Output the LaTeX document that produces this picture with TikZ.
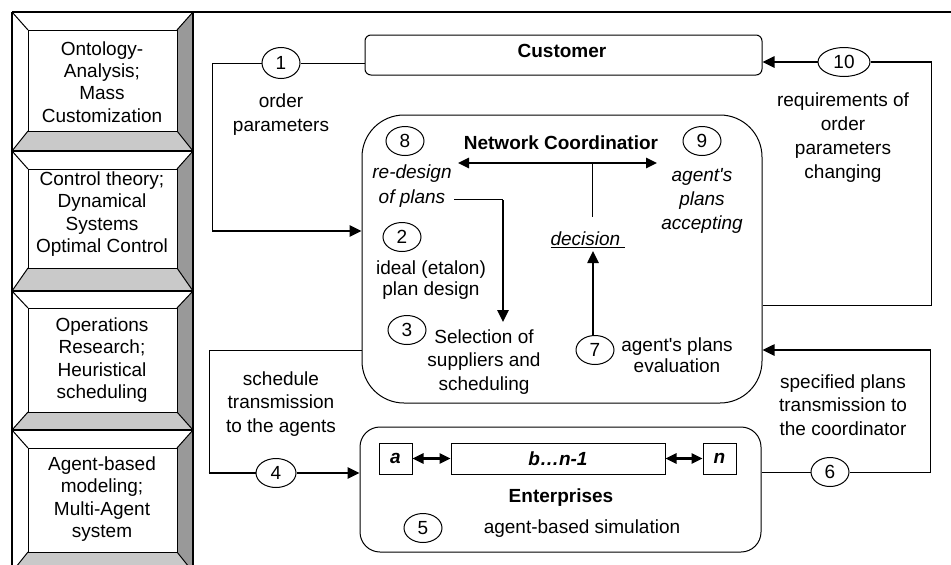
\documentclass[tikz,border=0pt]{standalone}
\usepackage{fontspec}
\setmainfont{Liberation Sans}
\usetikzlibrary{shapes.geometric,arrows.meta}
\newcommand\diagfont{\fontsize{19}{23.5}\selectfont}
\definecolor{bevright}{gray}{0.6}
\definecolor{bevbottom}{gray}{0.79}
\tikzset{
  thinline/.style={line width=1pt},
  thickline/.style={line width=2.5pt},
  fwd/.style={-{Triangle[length=12pt,width=11pt]}},
  both/.style={{Triangle[length=11pt,width=10pt]}-{Triangle[length=11pt,width=10pt]}},
  txt/.style={font=\diagfont, align=center, inner sep=0pt},
  itxt/.style={font=\diagfont\itshape, align=center, inner sep=0pt},
  btxt/.style={font=\diagfont\bfseries, align=center, inner sep=0pt},
  frametxt/.style={font=\fontsize{19}{22.2}\selectfont, align=center, inner sep=0pt},
  num/.style={ellipse, draw, line width=1pt, font=\diagfont, minimum width=38pt,
              minimum height=29pt, inner sep=0pt},
  box/.style={draw, line width=1pt, inner sep=0pt},
  smallbox/.style={draw, line width=1pt, inner sep=0pt, minimum height=31pt,
                   font=\diagfont\bfseries\itshape}
}
\begin{document}
\begin{tikzpicture}[x=1pt,y=-1pt]
\useasboundingbox (0,0) rectangle (951,565);
\clip (0,0) rectangle (951,565);

% ---- left column of bevelled method panels ----
\foreach \ya/\yb/\yc/\yd in {12/30/131/151, 151/169/268/291, 291/308/412/430, 430/448/552/572}{
  \fill[bevright] (177,\yb) -- (193,\ya) -- (193,\yd) -- (177,\yc) -- cycle;
  \fill[bevbottom] (28,\yc) -- (177,\yc) -- (193,\yd) -- (12,\yd) -- cycle;
  \draw[thinline] (28,\yb) rectangle (177,\yc);
  \draw[thinline] (12,\ya) -- (28,\yb) (193,\ya) -- (177,\yb)
                  (12,\yd) -- (28,\yc) (193,\yd) -- (177,\yc);
  \draw[line width=2.8pt] (12,\yd) -- (193,\yd);
}
\draw[line width=1.2pt] (12,12) -- (12,572);
\draw[line width=2.6pt] (193,12) -- (193,572);
\draw[line width=2.8pt] (12,12) -- (951,12);

\node[frametxt] (m1) at (102,82) {Ontology-\\Analysis;\\Mass\\Customization};
\node[frametxt] (m2) at (102,214) {Control theory;\\Dynamical\\Systems\\Optimal Control};
\node[frametxt] (m3) at (102,360) {Operations\\Research;\\Heuristical\\scheduling};
\node[frametxt] (m4) at (102,499) {Agent-based\\modeling;\\Multi-Agent\\system};

% ---- main blocks ----
\node[box, minimum width=397pt, minimum height=40pt, rounded corners=6pt] (cust) at (563.5,55) {};
\node[btxt] (custtxt) at (562,51) {Customer};
\node[box, minimum width=400pt, minimum height=288pt, rounded corners=42pt] (nc) at (562,259) {};
\node[box, minimum width=401pt, minimum height=125pt, rounded corners=20pt] (ent) at (560.5,489.5) {};

% ---- numbered steps ----
\node[num, minimum height=31pt] (e1) at (281,63) {1};
\node[num, minimum width=52pt] (e10) at (844,62) {10};
\node[num] (e8) at (405,141) {8};
\node[num] (e9) at (702,141) {9};
\node[num] (e2) at (402,237) {2};
\node[num] (e3) at (407,330) {3};
\node[num] (e7) at (595,350) {7};
\node[num, minimum width=40pt] (e4) at (276,473) {4};
\node[num] (e5) at (423,528) {5};
\node[num] (e6) at (830,472) {6};

% ---- coordinator contents ----
\node[btxt] (nctitle) at (561,143) {Network Coordinatior};
\node[itxt, font=\fontsize{19}{25}\selectfont\itshape] (redesign) at (412,186) {re-design\\of plans};
\node[itxt, font=\fontsize{19}{24}\selectfont\itshape] (accept) at (702,201) {agent\textquotesingle s\\plans\\accepting};
\node[itxt] (dec) at (588,240) {\underline{decision\ }};
\node[txt, font=\fontsize{19}{21.5}\selectfont] (t2) at (431,280) {ideal (etalon)\\plan design};
\node[txt] (t3) at (484,362) {Selection of\\suppliers and\\scheduling};
\node[txt, font=\fontsize{19}{21.5}\selectfont] (t7) at (677,355) {agent\textquotesingle s plans\\evaluation};

\coordinate (dl) at (458,163);
\coordinate (dr) at (657,163);
\coordinate (dm) at (592,163);
\coordinate (dmb) at (592,217);
\draw[thickline, both] (dl) -- (dr);
\draw[thinline] (dm) -- (dmb);
\coordinate (dectip) at (593,251);
\draw[thickline, fwd] (e7.north -| dectip) -- (dectip);

\coordinate (rd) at (454,199);
\coordinate (rc) at (503,199);
\coordinate (rtip) at (503,322);
\draw[thinline] (rd) -- (rc);
\draw[thickline, fwd] ([yshift=-1pt]rc) -- (rtip);

% ---- enterprises contents ----
\node[smallbox, minimum width=33pt] (ea) at (395.5,458.5) {a};
\node[smallbox, minimum width=214pt] (eb) at (558,458.5) {b…n-1};
\node[smallbox, minimum width=33pt] (en) at (719.5,458.5) {n};
\draw[thickline, both] (ea) -- (eb);
\draw[thickline, both] (eb) -- (en);
\node[btxt] (enttxt) at (561,498) {Enterprises};
\node[txt] (t5) at (582,529) {agent-based simulation};

% ---- outer labels ----
\node[txt, font=\fontsize{19}{24}\selectfont] (t1) at (281,115) {order\\parameters};
\node[txt, font=\fontsize{19}{24}\selectfont] (t10) at (843,138) {requirements of\\order\\parameters\\changing};
\node[txt] (t4) at (281,404) {schedule\\transmission\\to the agents};
\node[txt] (t6) at (843,405) {specified plans\\transmission to\\the coordinator};

% ---- flows ----
% 1: order parameters from the customer to the coordinator
\coordinate (c1a) at (212,63);
\coordinate (c1b) at (212,231);
\draw[thinline] (e1) -- (cust.west |- e1);
\draw[thinline] (e1) -- (c1a) -- (c1b);
\draw[thickline, fwd] (c1b) -- (nc.west |- c1b);

% 10: changed requirements back to the customer
\coordinate (c10a) at (931,62);
\coordinate (c10b) at (931,305);
\draw[thickline, fwd] (e10) -- (cust.east |- e10);
\draw[thickline] (e10) -- ([xshift=0.5pt]c10a);
\draw[thinline] (c10a) -- (c10b) -- (nc.east |- c10b);

% 4: schedules to the agents
\coordinate (c4a) at (209,350);
\coordinate (c4b) at (209,473);
\draw[thinline] (nc.west |- c4a) -- (c4a) -- (c4b);
\draw[thickline] ([xshift=-0.5pt]c4b) -- (e4);
\draw[thickline, fwd] (e4) -- (ent.west |- e4);

% 6: specified plans back to the coordinator
\coordinate (c6a) at (930,472);
\coordinate (c6b) at (930,350);
\draw[thinline] (ent.east |- e6) -- (e6);
\draw[thinline] (e6) -- (c6a) -- (c6b);
\draw[thickline, fwd] ([xshift=0.5pt]c6b) -- (nc.east |- c6b);
\end{tikzpicture}
\end{document}
